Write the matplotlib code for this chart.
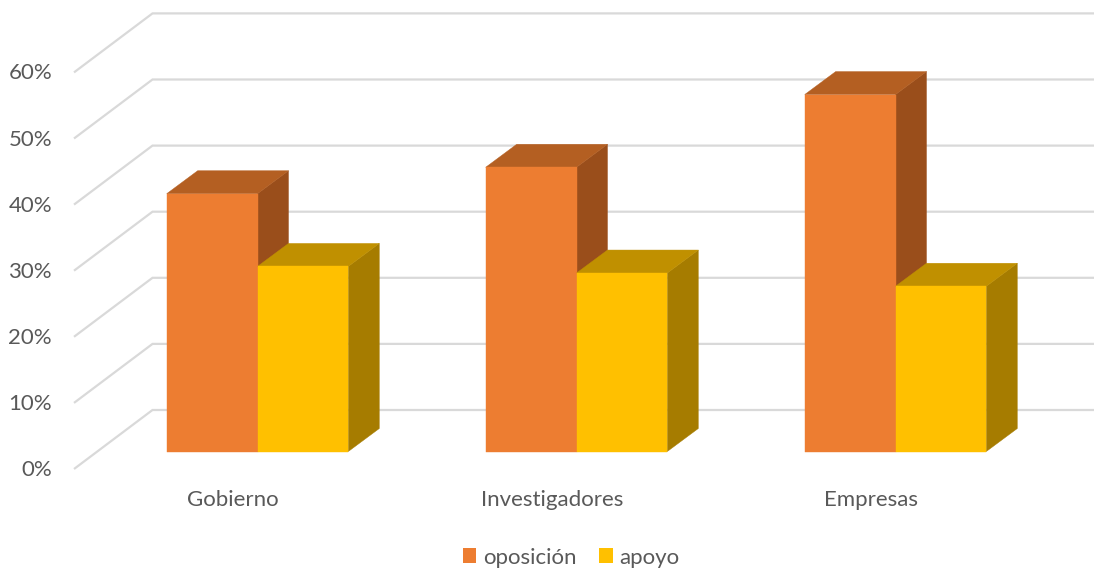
import matplotlib
matplotlib.use('Agg')
import matplotlib.pyplot as plt
from matplotlib.patches import Polygon, Patch

categorias = ['Gobierno', 'Investigadores', 'Empresas']
oposicion = [0.39, 0.43, 0.54]
apoyo = [0.28, 0.27, 0.25]
niveles = [0, 0.1, 0.2, 0.3, 0.4, 0.5, 0.6]
etiquetas = ['0%', '10%', '20%', '30%', '40%', '50%', '60%']

plt.rcParams['font.family'] = ['Lato', 'DejaVu Sans']
GRIS = '#595959'

# escala: 319 px entre categorias, 661 px por unidad de valor
ESC_X = 319.0
ESC_Y = 661.0
ancho = 90.8 / ESC_X
prof_x = 31 / ESC_X
prof_y = 23 / ESC_Y


def barra3d(ax, x0, x1, valor, frente, arriba, lado):
    borde = dict(linewidth=0.3, joinstyle='miter', zorder=3)
    ax.add_patch(Polygon([(x1, 0), (x1 + prof_x, prof_y), (x1 + prof_x, valor + prof_y), (x1, valor)],
                         facecolor=lado, edgecolor=lado, **borde))
    ax.add_patch(Polygon([(x0, valor), (x0 + prof_x, valor + prof_y), (x1 + prof_x, valor + prof_y), (x1, valor)],
                         facecolor=arriba, edgecolor=arriba, **borde))
    ax.add_patch(Polygon([(x0, 0), (x1, 0), (x1, valor), (x0, valor)],
                         facecolor=frente, edgecolor=frente, **borde))


fig = plt.figure(figsize=(10.94, 5.68), dpi=100)
ax = fig.add_axes([0, 0, 1, 1])
ax.set_xlim(-257.5 / ESC_X, (1094 - 257.5) / ESC_X)
ax.set_ylim(-(568 - 451.5) / ESC_Y, 451.5 / ESC_Y)
ax.axis('off')

# paredes con la cuadricula
x_frente = (74 - 257.5) / ESC_X
x_fondo = (152.5 - 257.5) / ESC_X
x_fin = (1094 - 257.5) / ESC_X
y_frente = -17.5 / ESC_Y
y_fondo = 41.5 / ESC_Y
for v, texto in zip(niveles, etiquetas):
    ax.plot([x_frente, x_fondo, x_fin], [v + y_frente, v + y_fondo, v + y_fondo],
            color='#D9D9D9', linewidth=1.6, solid_joinstyle='miter', solid_capstyle='butt', zorder=1)
    ax.text((52 - 257.5) / ESC_X, v - 18.5 / ESC_Y, texto, ha='right', va='center',
            fontsize=16, color=GRIS)

for i, nombre in enumerate(categorias):
    barra3d(ax, i - ancho, i, oposicion[i], '#ED7D31', '#B45F22', '#9A4E1B')
    barra3d(ax, i, i + ancho, apoyo[i], '#FFC000', '#C09000', '#A67C00')
    ax.text(i - 24.5 / ESC_X, -49 / ESC_Y, nombre, ha='center', va='center',
            fontsize=16, color=GRIS)

manejadores = [Patch(facecolor='#ED7D31', label='oposición'), Patch(facecolor='#FFC000', label='apoyo')]
ax.legend(handles=manejadores, loc='center', bbox_to_anchor=(571 / 1094, 1 - 557.5 / 568), ncol=2,
          frameon=False, fontsize=16, labelcolor=GRIS, handlelength=0.62, handleheight=0.62,
          handletextpad=0.3, columnspacing=1.0, borderpad=0)

fig.savefig('out.png', dpi=100)
